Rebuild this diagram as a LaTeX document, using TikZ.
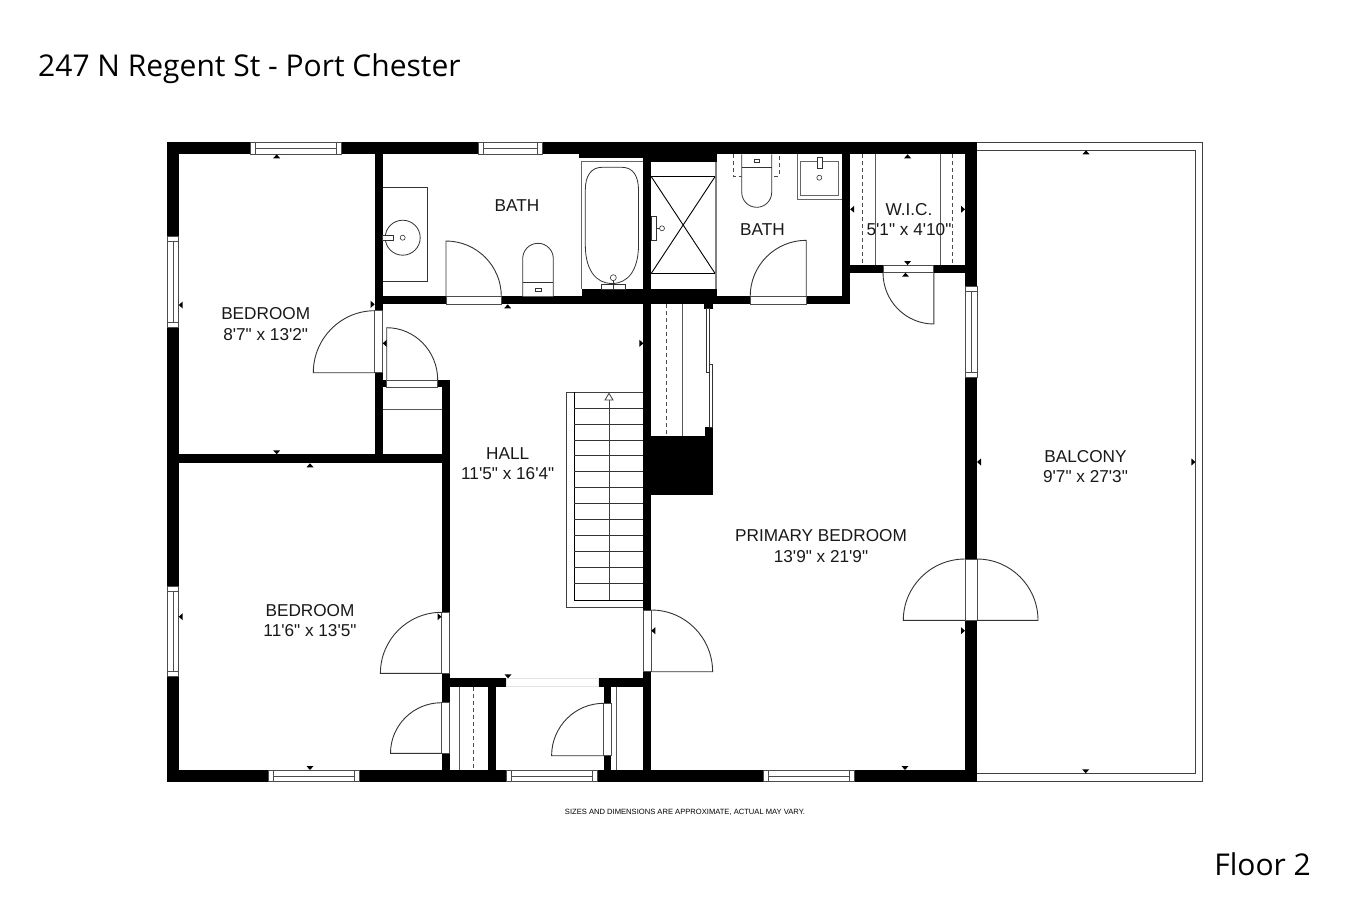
\documentclass[tikz,border=0pt]{standalone}
\usepackage{fontspec}
\newfontfamily\roomfont{Liberation Sans}
\newfontfamily\headfont{Open Sans}
\begin{document}
\begin{tikzpicture}[x=1pt,y=-1pt,
        room/.style={font=\roomfont\fontsize{17.2}{20.5}\selectfont,align=center,text=black!90,inner sep=0pt},
        head/.style={font=\headfont\fontsize{30}{36}\selectfont,text=black,inner sep=0pt},
        thin line/.style={draw=black!75,line width=0.8pt},
        fixture/.style={draw=black!80,line width=0.8pt,fill=white},
        door/.style={draw=black!80,line width=0.9pt},
        gap/.style={draw=black!70,line width=0.7pt,fill=white},
        closet/.style={draw=black!65,line width=0.8pt},
        hidden/.style={draw=black!70,line width=0.8pt,dash pattern=on 4pt off 3pt}]
    \useasboundingbox (0,0) rectangle (1370,914);
    \fill[white] (0,0) rectangle (1370,914);
    % balcony
    \draw[thin line] (977,142.3) -- (1202.8,142.3) -- (1202.8,781.7) -- (977,781.7);
    \draw[thin line] (977,150.3) -- (1195.4,150.3) -- (1195.4,773.3) -- (977,773.3);
    % walls
    \foreach \xa/\ya/\xb/\yb in {167/142.3/977/154.3,167/142.3/178.7/781.7,167/770/977/781.7,965/142.3/977/781.7,
            374.7/142.3/382.7/463.3,178.7/454.3/449.5/463.3,441.5/380/449.5/781.7,382.7/380/441.5/387.3,
            382.7/296.3/850.2/304.3,579.3/154/716.7/158.3,651.3/154/716.7/161.7,581.7/289/716.7/304.3,
            643.4/142.3/651.3/781.7,841.8/142.3/850.2/304.3,850.2/265/965/272.7,
            651/436/713.3/495,705/427.3/713.3/436,704/304/713.3/308.5,
            449.5/678.3/643.4/686.7,488.4/686/496.4/781,603.6/678.3/611.3/781}
        \fill[black] (\xa,\ya) rectangle (\xb,\yb);
    % windows across the wall
    \foreach \xa/\xb/\ya/\yb in {250/341/142.3/154.3,478.3/542.7/142.3/154.3,268/359/770/781.7,506.5/597/770/781.7,763/854.3/770/781.7}{
        \draw[gap] (\xa,\ya) rectangle (\xb,\yb);
        \draw[gap] (\xa+5,\ya) -- (\xa+5,\yb) (\xb-5,\ya) -- (\xb-5,\yb);
        \draw[gap] (\xa+5,{(\ya+\yb)/2}) -- (\xb-5,{(\ya+\yb)/2});
    }
    \foreach \ya/\yb/\xa/\xb in {236.7/327.3/167/178.7,586/676.7/167/178.7,286/377.3/965/977}{
        \draw[gap] (\xa,\ya) rectangle (\xb,\yb);
        \draw[gap] (\xa,\ya+5) -- (\xb,\ya+5) (\xa,\yb-5) -- (\xb,\yb-5);
        \draw[gap] ({(\xa+\xb)/2},\ya+5) -- ({(\xa+\xb)/2},\yb-5);
    }
    % door openings
    \foreach \xa/\ya/\xb/\yb in {374.7/310.7/382.7/372.7,446/296.3/501.3/304.3,386.7/380/437.7/387.3,
            441.5/612.3/449.5/673.3,441.5/702.7/449.5/753.3,643.4/610/651.3/671.7,
            603.6/703.3/611.3/755.7,750.2/296.3/806.2/304.3,883/265/933.8/272.7,965/559/977/620.3}
        \draw[gap] (\xa,\ya) rectangle (\xb,\yb);
    \draw[draw=black!10,fill=white,line width=0.7pt] (506.2,678.3) rectangle (598.2,686.7);
    % swing doors
    \draw[door] (374.7,372.7) -- (313.3,372.7) arc[start angle=180,end angle=90,x radius=61.4pt,y radius=62pt];
    \draw[door] (446,296.3) -- (446,241) arc[start angle=90,end angle=0,x radius=55.3pt,y radius=55.3pt];
    \draw[door] (386.7,380) -- (386.7,327.7) arc[start angle=90,end angle=0,x radius=51pt,y radius=52.3pt];
    \draw[door] (441.5,673.3) -- (380.4,673.3) arc[start angle=180,end angle=90,x radius=61.1pt,y radius=61pt];
    \draw[door] (441.5,753.3) -- (390.5,753.3) arc[start angle=180,end angle=90,x radius=51pt,y radius=50.6pt];
    \draw[door] (603.6,755.7) -- (551.6,755.7) arc[start angle=180,end angle=90,x radius=52pt,y radius=52.4pt];
    \draw[door] (651.3,671.7) -- (712.6,671.7) arc[start angle=0,end angle=90,x radius=61.3pt,y radius=61.7pt];
    \draw[door] (806.2,296.3) -- (806.2,240.3) arc[start angle=90,end angle=180,x radius=56pt,y radius=56pt];
    \draw[door] (933.8,272.7) -- (933.8,324) arc[start angle=270,end angle=180,x radius=50.8pt,y radius=51.3pt];
    \draw[door] (965,620.3) -- (903.3,620.3) arc[start angle=180,end angle=90,x radius=61.7pt,y radius=61.3pt];
    \draw[door] (977,620.3) -- (1038,620.3) arc[start angle=0,end angle=90,x radius=61pt,y radius=61.3pt];
    % closets
    \foreach \xa in {875.3,940}
        \draw[closet] (\xa,154.3) -- (\xa,265);
    \foreach \xa in {862.5,952}
        \draw[hidden] (\xa,154.3) -- (\xa,265);
    \draw[closet] (382.7,409.3) -- (441.5,409.3);
    \draw[closet] (459.6,686.7) -- (459.6,770);
    \draw[hidden] (473.8,686.7) -- (473.8,770);
    \draw[closet] (616,686.7) -- (616,770);
    \draw[closet] (682.3,304.3) -- (682.3,436);
    \draw[hidden] (666.7,304.3) -- (666.7,436);
    \draw[fixture,line width=0.6pt] (706.7,308.5) rectangle (709.3,372.7);
    \draw[fixture,line width=0.6pt] (709.3,364) rectangle (712,427.3);
    % stairs
    \draw[thin line] (566.7,392) -- (643.4,392);
    \draw[thin line] (566.7,392) -- (566.7,607.3) -- (643.4,607.3);
    \draw[black,line width=1pt] (574.3,392) -- (574.3,600) -- (643.4,600);
    \foreach \i in {1,...,12}
        \draw[black!80,line width=0.8pt] (574.3,392+15.97*\i) -- (643.4,392+15.97*\i);
    \draw[thin line] (609,400) -- (609,600);
    \draw[thin line,fill=white] (605,400) -- (609,393.3) -- (613,400) -- cycle;
    % first bath
    \draw[fixture] (382.7,187.7) -- (427.7,187.7) -- (427.7,281.7) -- (382.7,281.7);
    \draw[fixture] (402.7,237.7) circle (17.5pt);
    \draw[fixture,line width=0.6pt] (382.7,235.7) rectangle (393,240);
    \draw[fixture,line width=0.6pt] (402.7,237.7) circle (2.5pt);
    \draw[fixture] (522.7,296.3) -- (522.7,258.6) arc[start angle=180,end angle=0,x radius=15.3pt,y radius=15.3pt] -- (553.3,296.3);
    \draw[fixture] (522.7,282.7) -- (553.3,282.7);
    \draw[fixture,line width=0.6pt] (535.5,288.2) rectangle (541,290.8);
    \draw[fixture,fill=none,draw=black!60] (581.7,289) -- (581.7,161.3) -- (643.4,161.3);
    \draw[fixture] (602,167.3) -- (622,167.3) .. controls (633,167.3) and (638.5,176) .. (638.5,190)
        -- (638.5,245) .. controls (638.5,270) and (628,283.5) .. (612,283.5)
        .. controls (596,283.5) and (585.3,270) .. (585.3,245) -- (585.3,190)
        .. controls (585.3,176) and (591,167.3) .. (602,167.3) -- cycle;
    \draw[fixture,line width=0.6pt] (601.7,284.3) rectangle (625.7,289);
    \draw[fixture,line width=0.6pt] (613.3,277.7) -- (613.3,289);
    \draw[fixture,line width=0.6pt] (613.3,277.7) circle (3pt);
    % shower
    \draw[draw=black!50,line width=2pt] (715.7,161.7) -- (715.7,289);
    \draw[black,line width=1pt] (651.3,176.7) -- (715,176.7) (651.3,273.3) -- (715,273.3);
    \draw[black,line width=0.9pt] (651.3,176.7) -- (715,273.3) (715,176.7) -- (651.3,273.3);
    \draw[fixture,line width=0.6pt] (651.7,216) rectangle (656,240.7);
    \draw[fixture,line width=0.6pt] (656,228.3) -- (660,228.3);
    \draw[fixture,line width=0.6pt] (662,228.3) circle (2.5pt);
    % second bath
    \draw[hidden] (733.7,154.3) -- (733.7,176.7) -- (779,176.7) -- (779,154.3);
    \draw[fixture] (741.7,154.3) -- (741.7,192.3) arc[start angle=180,end angle=360,x radius=15pt,y radius=15pt] -- (771.7,154.3);
    \draw[fixture] (741.7,167.7) -- (771.7,167.7);
    \draw[fixture,line width=0.6pt] (754,159.5) rectangle (759.5,162.5);
    \draw[fixture,draw=black!60] (797.3,154.3) -- (797.3,199.3) -- (841.8,199.3);
    \draw[fixture,draw=black!60] (800.7,161) rectangle (838.3,195);
    \draw[fixture,line width=0.6pt] (817.3,157.3) rectangle (822,168.3);
    \draw[fixture,line width=0.6pt] (819.3,177.7) circle (2.5pt);
    % wall marks
    \foreach \xa/\ya in {276.7/154.3,310/463.3,507.7/304.3,907.6/154.3,905.5/272.7,1086/150.3}
        \fill[black] (\xa,\ya) -- (\xa+3.5,\ya+4) -- (\xa-3.5,\ya+4) -- cycle;
    \foreach \xa/\ya in {276.7/454.3,907.6/265,905/770,1085.7/773.3,310/770,508/678.3}
        \fill[black] (\xa,\ya) -- (\xa+3.5,\ya-4) -- (\xa-3.5,\ya-4) -- cycle;
    \foreach \xa/\ya in {178.7/305,382.7/343.3,850.2/209.3,977/462,178.7/616.7,651.3/630.7}
        \fill[black] (\xa,\ya) -- (\xa+4,\ya+3.5) -- (\xa+4,\ya-3.5) -- cycle;
    \foreach \xa/\ya in {374.7/304.3,643.4/343.3,965/209.3,1195.4/462,965/630.7,441.5/616.7}
        \fill[black] (\xa,\ya) -- (\xa-4,\ya+3.5) -- (\xa-4,\ya-3.5) -- cycle;
    % labels
    \node[room] (bedfront) at (265.7,324) {BEDROOM\\8'7" x 13'2"};
    \node[room] (bathone) at (517,206) {BATH};
    \node[room] (bathtwo) at (762.5,230) {BATH};
    \node[room] (wic) at (909,219.7) {W.I.C.\\5'1" x 4'10"};
    \node[room] (hall) at (507.7,463.7) {HALL\\11'5" x 16'4"};
    \node[room] (balcony) at (1085.5,466.5) {BALCONY\\9'7" x 27'3"};
    \node[room] (primary) at (821,546) {PRIMARY BEDROOM\\13'9" x 21'9"};
    \node[room] (bedback) at (310,620.5) {BEDROOM\\11'6" x 13'5"};
    \node[font=\roomfont\fontsize{7.6}{8}\selectfont,inner sep=0pt] (note) at (685,812) {SIZES AND DIMENSIONS ARE APPROXIMATE, ACTUAL MAY VARY.};
    \node[head,anchor=west] (title) at (38,68.5) {247 N Regent St - Port Chester};
    \node[head,anchor=east] (floor) at (1311,864) {Floor 2};
\end{tikzpicture}
\end{document}
